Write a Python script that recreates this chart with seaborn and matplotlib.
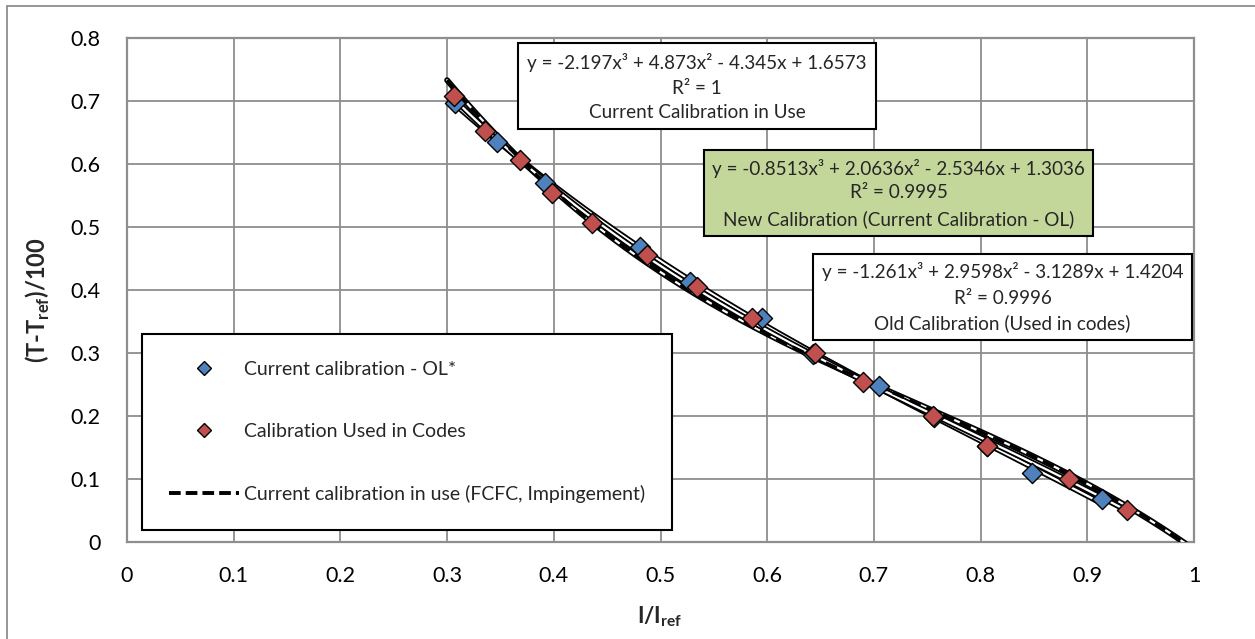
import numpy as np
import pandas as pd
import matplotlib
matplotlib.use("Agg")
import matplotlib.pyplot as plt
import matplotlib.patheffects as pe
from matplotlib.lines import Line2D
from matplotlib.patches import Rectangle
import seaborn as sns

# ---------------- data ----------------
blue_x = [0.307, 0.3465, 0.392, 0.481, 0.528, 0.595, 0.643, 0.705, 0.756, 0.806, 0.8485, 0.9135]
blue_y = [0.697, 0.635, 0.570, 0.468, 0.413, 0.355, 0.298, 0.247, 0.199, 0.152, 0.109, 0.069]
red_x = [0.306, 0.3355, 0.368, 0.398, 0.4355, 0.487, 0.534, 0.5855, 0.645, 0.690, 0.755, 0.806, 0.883, 0.937]
red_y = [0.708, 0.653, 0.606, 0.554, 0.506, 0.455, 0.404, 0.356, 0.300, 0.254, 0.200, 0.153, 0.0995, 0.0514]

# polynomial trendline coefficients (x^3, x^2, x, 1) as printed on the chart
coef_current = [-2.197, 4.873, -4.345, 1.6573]
coef_new = [-0.8513, 2.0636, -2.5346, 1.3036]
coef_old = [-1.261, 2.9598, -3.1289, 1.4204]
current_range = [0.30, 0.992]

series_labels = ["Current calibration - OL*", "Calibration Used in Codes",
                 "Current calibration in use (FCFC, Impingement)"]
x_ticks = [0, 0.1, 0.2, 0.3, 0.4, 0.5, 0.6, 0.7, 0.8, 0.9, 1]
y_ticks = [0, 0.1, 0.2, 0.3, 0.4, 0.5, 0.6, 0.7, 0.8]
x_tick_labels = ["0", "0.1", "0.2", "0.3", "0.4", "0.5", "0.6", "0.7", "0.8", "0.9", "1"]
y_tick_labels = ["0", "0.1", "0.2", "0.3", "0.4", "0.5", "0.6", "0.7", "0.8"]

box_current = ["y = -2.197x³ + 4.873x² - 4.345x + 1.6573", "R² = 1", "Current Calibration in Use"]
box_new = ["y = -0.8513x³ + 2.0636x² - 2.5346x + 1.3036", "R² = 0.9995",
           "New Calibration (Current Calibration - OL)"]
box_old = ["y = -1.261x³ + 2.9598x² - 3.1289x + 1.4204", "R² = 0.9996", "Old Calibration (Used in codes)"]

BLUE = "#4F81BD"
RED = "#C0504D"
GREEN = "#C4D79B"
GRID = "#8E8E8E"

# ---------------- figure ----------------
sns.set_theme(style="white")
plt.rcParams["font.family"] = ["Lato", "DejaVu Sans"]

W, H = 1255, 639
fig = plt.figure(figsize=(W / 100, H / 100), dpi=100)
fig.patch.set_facecolor("white")


def fx(px):
    return px / W


def fy(py):
    return 1 - py / H


L, R, T, B = 127, 1194, 38, 542
ax = fig.add_axes([fx(L), fy(B), fx(R) - fx(L), fy(T) - fy(B)])
ax.set_facecolor("white")


def poly_frame(coef, lo, hi, n=200):
    xs = np.linspace(lo, hi, n)
    return pd.DataFrame({"x": xs, "y": np.polyval(coef, xs)})


hollow = [pe.Stroke(linewidth=4.2, foreground="black"), pe.Normal()]

# trendlines (hollow look)
for coef, lo, hi in [(coef_current, current_range[0], current_range[1]),
                     (coef_new, min(blue_x), max(blue_x)),
                     (coef_old, min(red_x), max(red_x))]:
    df = poly_frame(coef, lo, hi)
    sns.lineplot(data=df, x="x", y="y", ax=ax, color="white", linewidth=1.6,
                 sort=False, estimator=None, path_effects=hollow, zorder=3)

# dashed current-calibration series
dfc = poly_frame(coef_current, current_range[0], current_range[1])
sns.lineplot(data=dfc, x="x", y="y", ax=ax, color="black", linewidth=2.2,
             linestyle=(0, (4, 2)), sort=False, estimator=None, zorder=4)

# scatter markers
sns.scatterplot(x=blue_x, y=blue_y, ax=ax, marker="D", s=105, color=BLUE,
                edgecolor="black", linewidth=1.0, zorder=5)
sns.scatterplot(x=red_x, y=red_y, ax=ax, marker="D", s=105, color=RED,
                edgecolor="black", linewidth=1.0, zorder=6)

ax.set_xlim(0, 1)
ax.set_ylim(0, 0.8)
ax.set_xticks(x_ticks)
ax.set_xticklabels(x_tick_labels)
ax.set_yticks(y_ticks)
ax.set_yticklabels(y_tick_labels)
ax.grid(True, color=GRID, linewidth=1.3)
ax.set_axisbelow(True)
for s in ax.spines.values():
    s.set_color(GRID)
    s.set_linewidth(1.6)
ax.tick_params(axis="both", length=0, labelsize=15.5, colors="black")
ax.tick_params(axis="y", pad=19)
ax.tick_params(axis="x", pad=17)
ax.set_xlabel("")
ax.set_ylabel("")

# axis titles
fig.text(fx(660), fy(617), "I/I$_\\mathregular{ref}$", ha="center", va="center",
         fontsize=16, fontweight="bold")
fig.text(fx(38), fy(300), "(T-T$_\\mathregular{ref}$)/100", ha="center", va="center",
         fontsize=17, fontweight="bold", rotation=90)

# legend
handles = [
    Line2D([], [], linestyle="none", marker="D", markersize=7, markerfacecolor=BLUE,
           markeredgecolor="black", markeredgewidth=1.0),
    Line2D([], [], linestyle="none", marker="D", markersize=7, markerfacecolor=RED,
           markeredgecolor="black", markeredgewidth=1.0),
    Line2D([], [], color="black", linewidth=2.8, linestyle=(0, (3, 1.3))),
]
leg = fig.legend(handles, series_labels, loc="upper left",
                 bbox_to_anchor=(fx(142), fy(334)), bbox_transform=fig.transFigure,
                 fontsize=14, frameon=True, fancybox=False, framealpha=1,
                 edgecolor="black", handlelength=3.6, handletextpad=0.25,
                 labelspacing=2.3, borderpad=1.4, borderaxespad=0)
leg.get_frame().set_linewidth(1.5)
leg.set_zorder(10)


def box(x0, y0, x1, y1, lines, face, line_ys):
    fig.add_artist(Rectangle((fx(x0), fy(y1)), fx(x1) - fx(x0), fy(y0) - fy(y1),
                             transform=fig.transFigure, facecolor=face,
                             edgecolor="black", linewidth=1.5, zorder=8))
    cx = (x0 + x1) / 2
    for t, yy in zip(lines, line_ys):
        fig.text(fx(cx), fy(yy), t, ha="center", va="center", fontsize=13.6, zorder=9)


box(518, 43, 876, 129, box_current, "white", [62, 88, 113])
box(704, 150, 1093, 236, box_new, GREEN, [168, 193, 219])
box(813, 254, 1192, 340, box_old, "white", [272, 298, 323])

# outer chart border (top and left visible)
fig.add_artist(Line2D([fx(7), 1], [fy(6), fy(6)], transform=fig.transFigure,
                      color=GRID, linewidth=1.3))
fig.add_artist(Line2D([fx(7), fx(7)], [fy(6), 0], transform=fig.transFigure,
                      color=GRID, linewidth=1.3))

fig.savefig("out.png", dpi=100, facecolor="white")
